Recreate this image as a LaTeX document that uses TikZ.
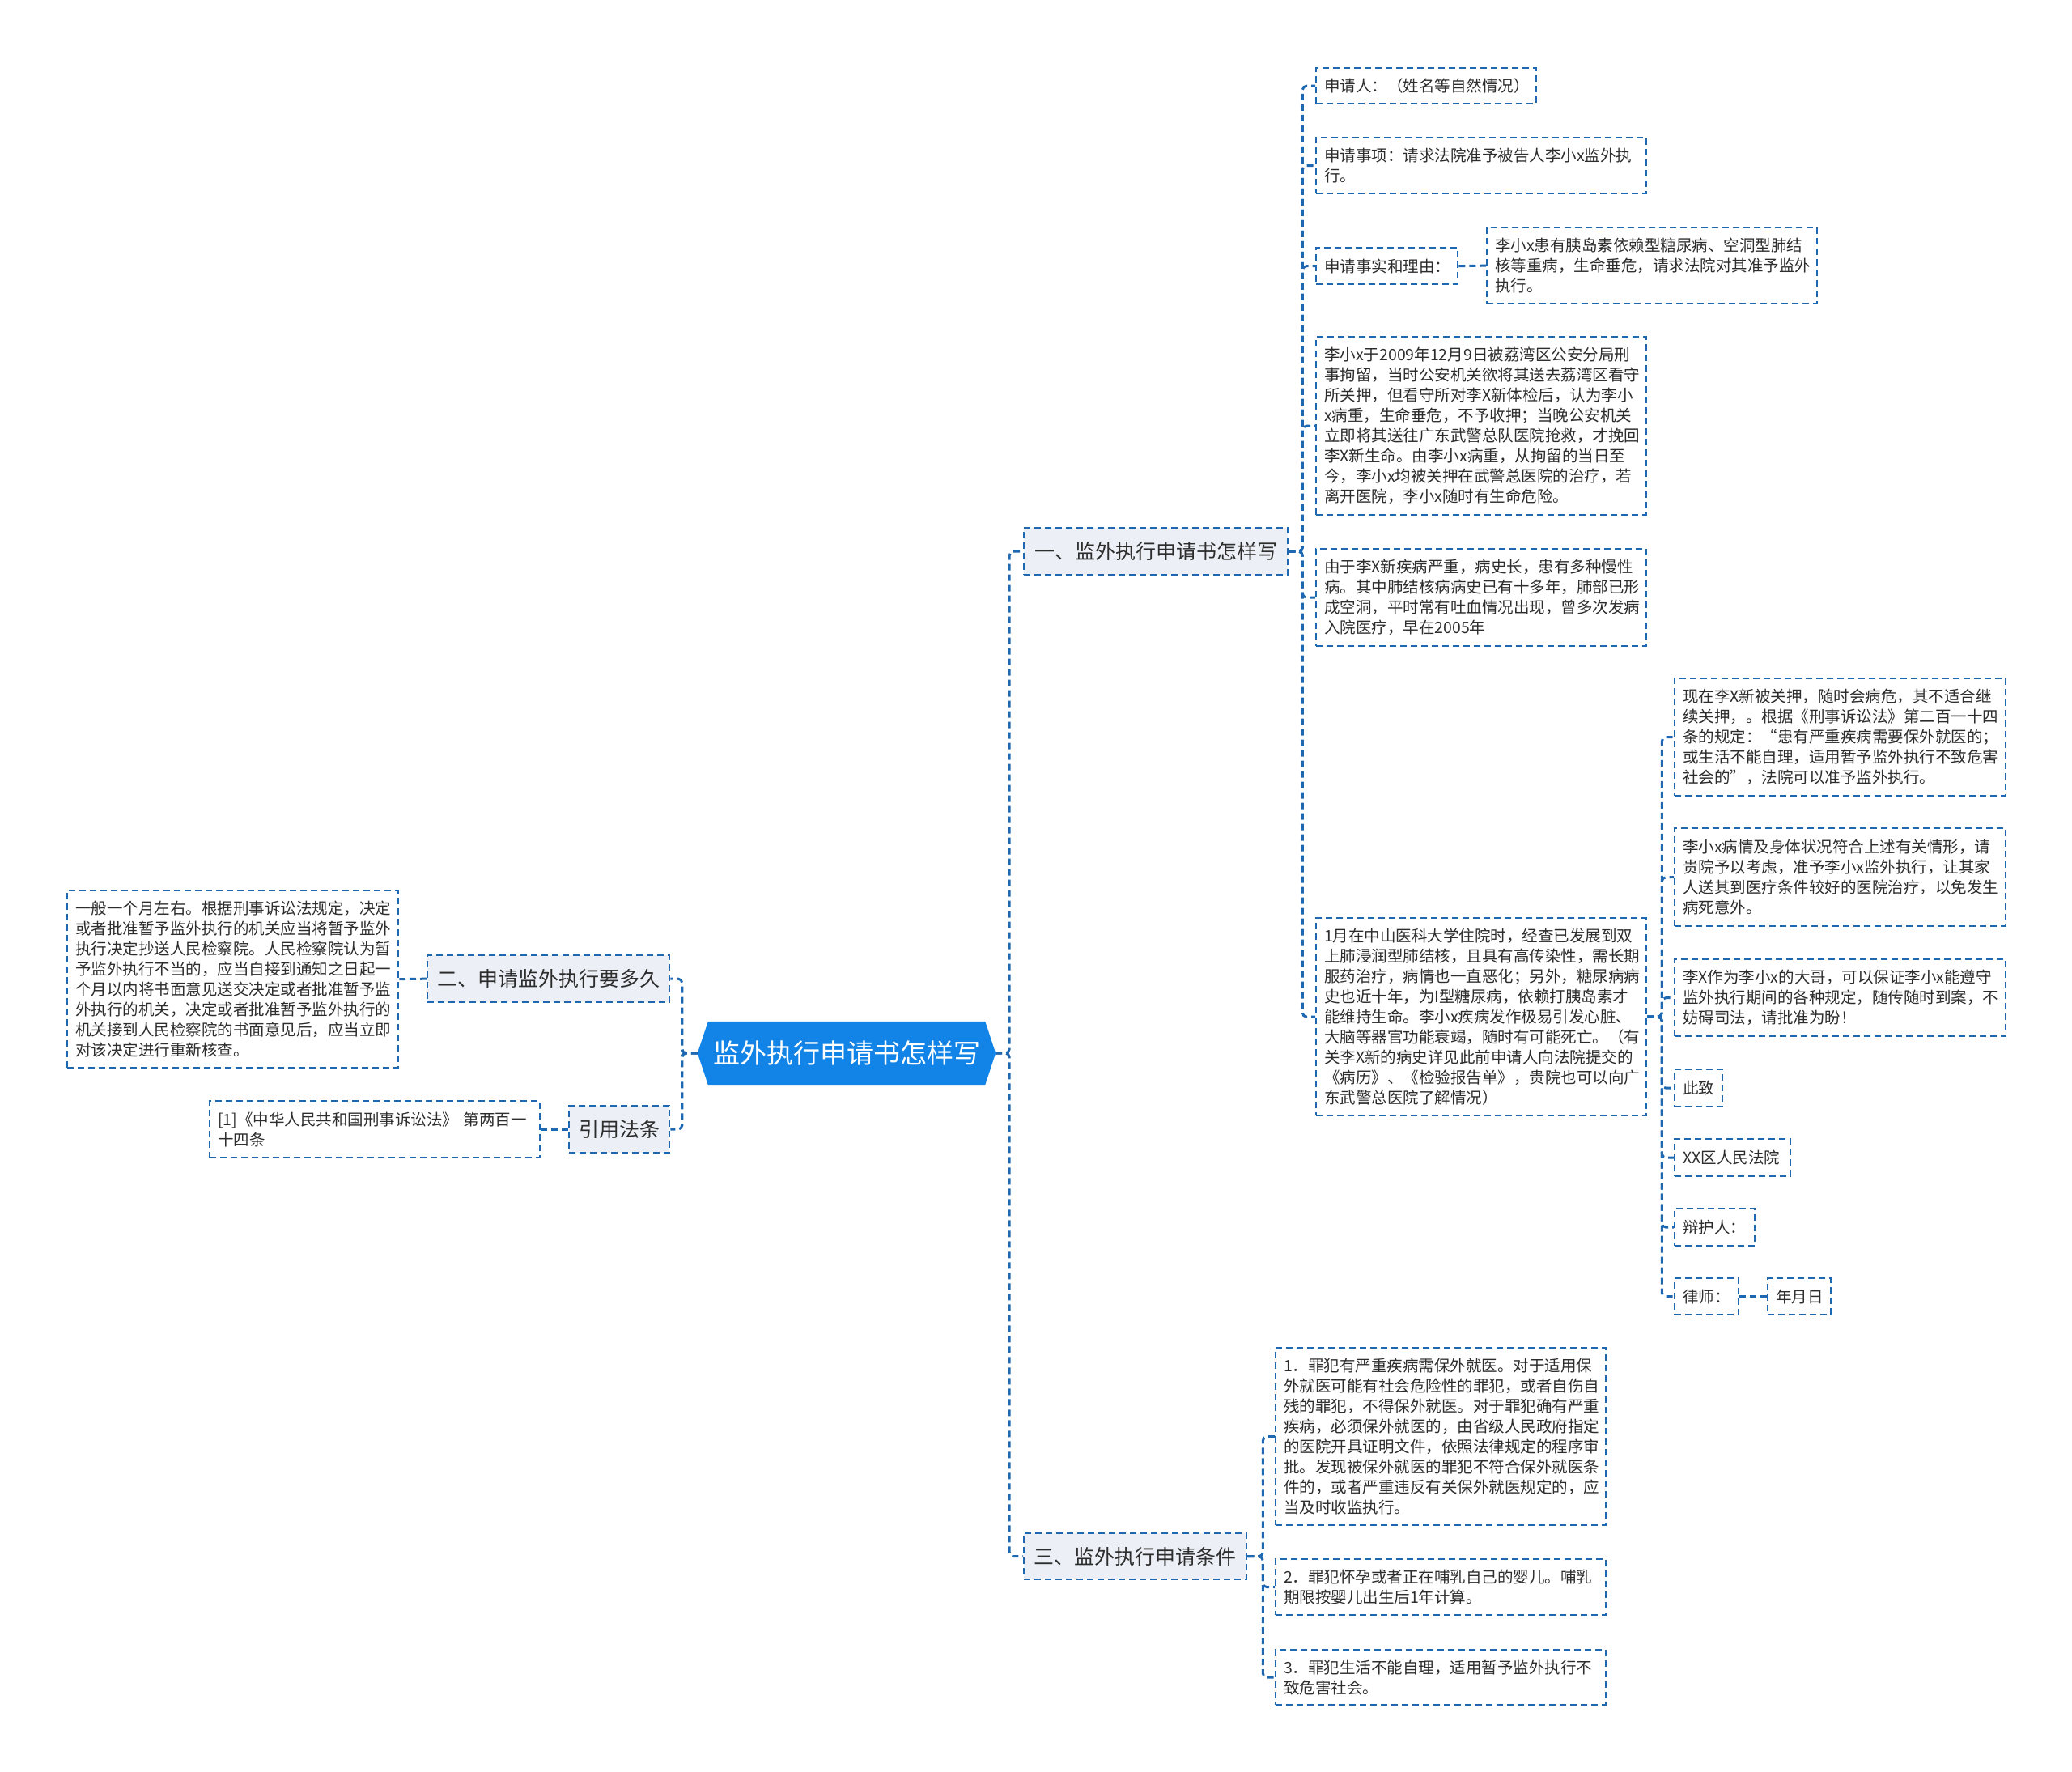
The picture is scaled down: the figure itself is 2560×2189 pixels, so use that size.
\documentclass[tikz,border=0pt]{standalone}
\usepackage{fontspec}
\newfontfamily\cjk{Noto Sans CJK SC}
\usetikzlibrary{backgrounds,calc}
\definecolor{lc}{RGB}{30,104,178}
\definecolor{rootc}{RGB}{18,132,232}
\definecolor{brc}{RGB}{236,240,246}
\definecolor{tc}{RGB}{45,45,45}
\tikzset{
  dsh/.style={dash pattern=on 8pt off 5pt},
  leaf/.style={draw=lc, line width=2.3pt, dsh, fill=white, inner xsep=10pt, inner ysep=0pt,
    align=left, anchor=north west, text=tc, font=\cjk\fontsize{19.5pt}{25pt}\selectfont},
  branch/.style={draw=lc, line width=2.3pt, dsh, fill=brc, inner sep=0pt, align=center,
    anchor=north west, text=tc, font=\cjk\fontsize{25pt}{30pt}\selectfont},
  conn/.style={draw=lc, line width=3pt, dsh, rounded corners=5pt},
}
\begin{document}
\begin{tikzpicture}[x=1pt,y=-1pt]
\path[use as bounding box] (0,0) rectangle (2560,2189);

% root
\node[inner sep=0pt, minimum width=368pt, minimum height=78pt, text=white,
  font=\cjk\fontsize{33pt}{38pt}\selectfont] (root) at (1046,1301) {监外执行申请书怎样写};
\begin{pgfonlayer}{background}
\fill[rootc] (root.west) -- ($(root.north west)+(13,0)$) -- ($(root.north east)+(-13,0)$)
  -- (root.east) -- ($(root.south east)+(-13,0)$) -- ($(root.south west)+(13,0)$) -- cycle;
\end{pgfonlayer}

% branches
\node[branch, minimum width=326pt, minimum height=58pt] (n1) at (1264,651) {一、监外执行申请书怎样写};
\node[branch, minimum width=299pt, minimum height=58pt] (n2) at (527,1179) {二、申请监外执行要多久};
\node[branch, minimum width=275pt, minimum height=57pt] (n3) at (1264,1893) {三、监外执行申请条件};
\node[branch, minimum width=124pt, minimum height=58pt] (n4) at (702,1365) {引用法条};

% branch one leaves
\node[leaf, text width=252pt, minimum height=44pt] (a1) at (1625,83) {申请人：（姓名等自然情况）};
\node[leaf, text width=388pt, minimum height=69pt] (a2) at (1625,169) {申请事项：请求法院准予被告人李小x监外执\\行。};
\node[leaf, text width=155pt, minimum height=45pt] (a3) at (1625,305) {申请事实和理由：};
\node[leaf, text width=388pt, minimum height=94pt] (a3c) at (1836,280) {李小x患有胰岛素依赖型糖尿病、空洞型肺结\\核等重病，生命垂危，请求法院对其准予监外\\执行。};
\node[leaf, text width=388pt, minimum height=220pt] (a4) at (1625,415) {李小x于2009年12月9日被荔湾区公安分局刑\\事拘留，当时公安机关欲将其送去荔湾区看守\\所关押，但看守所对李X新体检后，认为李小\\x病重，生命垂危，不予收押；当晚公安机关\\立即将其送往广东武警总队医院抢救，才挽回\\李X新生命。由李小x病重，从拘留的当日至\\今，李小x均被关押在武警总医院的治疗，若\\离开医院，李小x随时有生命危险。};
\node[leaf, text width=388pt, minimum height=120pt] (a5) at (1625,677) {由于李X新疾病严重，病史长，患有多种慢性\\病。其中肺结核病病史已有十多年，肺部已形\\成空洞，平时常有吐血情况出现，曾多次发病\\入院医疗，早在2005年};
\node[leaf, text width=388pt, minimum height=244pt] (a6) at (1625,1133) {1月在中山医科大学住院时，经查已发展到双\\上肺浸润型肺结核，且具有高传染性，需长期\\服药治疗，病情也一直恶化；另外，糖尿病病\\史也近十年，为I型糖尿病，依赖打胰岛素才\\能维持生命。李小x疾病发作极易引发心脏、\\大脑等器官功能衰竭，随时有可能死亡。（有\\关李X新的病史详见此前申请人向法院提交的\\《病历》、《检验报告单》，贵院也可以向广\\东武警总医院了解情况）};

% children of a6
\node[leaf, text width=389pt, minimum height=145pt] (b1) at (2068,837) {现在李X新被关押，随时会病危，其不适合继\\续关押，。根据《刑事诉讼法》第二百一十四\\条的规定：“患有严重疾病需要保外就医的；\\或生活不能自理，适用暂予监外执行不致危害\\社会的”，法院可以准予监外执行。};
\node[leaf, text width=389pt, minimum height=121pt] (b2) at (2068,1022) {李小x病情及身体状况符合上述有关情形，请\\贵院予以考虑，准予李小x监外执行，让其家\\人送其到医疗条件较好的医院治疗，以免发生\\病死意外。};
\node[leaf, text width=389pt, minimum height=95pt] (b3) at (2068,1184) {李X作为李小x的大哥，可以保证李小x能遵守\\监外执行期间的各种规定，随传随时到案，不\\妨碍司法，请批准为盼！};
\node[leaf, text width=39pt, minimum height=46pt] (b4) at (2068,1320) {此致};
\node[leaf, text width=123pt, minimum height=46pt] (b5) at (2068,1406) {XX区人民法院};
\node[leaf, text width=79pt, minimum height=46pt] (b6) at (2068,1492) {辩护人：};
\node[leaf, text width=59pt, minimum height=45pt] (b7) at (2068,1578) {律师：};
\node[leaf, text width=58pt, minimum height=45pt] (b7c) at (2183,1578) {年月日};

% branch three leaves
\node[leaf, text width=388pt, minimum height=219pt] (c1) at (1575,1664) {1．罪犯有严重疾病需保外就医。对于适用保\\外就医可能有社会危险性的罪犯，或者自伤自\\残的罪犯，不得保外就医。对于罪犯确有严重\\疾病，必须保外就医的，由省级人民政府指定\\的医院开具证明文件，依照法律规定的程序审\\批。发现被保外就医的罪犯不符合保外就医条\\件的，或者严重违反有关保外就医规定的，应\\当及时收监执行。};
\node[leaf, text width=388pt, minimum height=69pt] (c2) at (1575,1925) {2．罪犯怀孕或者正在哺乳自己的婴儿。哺乳\\期限按婴儿出生后1年计算。};
\node[leaf, text width=388pt, minimum height=68pt] (c3) at (1575,2037) {3．罪犯生活不能自理，适用暂予监外执行不\\致危害社会。};

% left leaves
\node[leaf, text width=389pt, minimum height=219pt] (d1) at (82,1099) {一般一个月左右。根据刑事诉讼法规定，决定\\或者批准暂予监外执行的机关应当将暂予监外\\执行决定抄送人民检察院。人民检察院认为暂\\予监外执行不当的，应当自接到通知之日起一\\个月以内将书面意见送交决定或者批准暂予监\\外执行的机关，决定或者批准暂予监外执行的\\机关接到人民检察院的书面意见后，应当立即\\对该决定进行重新核查。};
\node[leaf, text width=388pt, minimum height=70pt] (e1) at (258,1359) {[1]《中华人民共和国刑事诉讼法》 第两百一\\十四条};

% connectors
\foreach \c in {n1,n3} \draw[conn] (root.east) -- ++(17,0) |- (\c.west);
\foreach \c in {n2,n4} \draw[conn] (root.west) -- ++(-19,0) |- (\c.east);
\foreach \c in {a1,a2,a3,a4,a5,a6} \draw[conn] (n1.east) -- ++(17,0) |- (\c.west);
\draw[conn] (a3.east) -- (a3c.west);
\foreach \c in {b1,b2,b3,b4,b5,b6,b7} \draw[conn] (a6.east) -- ++(18,0) |- (\c.west);
\draw[conn] (b7.east) -- (b7c.west);
\foreach \c in {c1,c2,c3} \draw[conn] (n3.east) -- ++(19,0) |- (\c.west);
\draw[conn] (n2.west) -- (d1.east);
\draw[conn] (n4.west) -- (e1.east);
\end{tikzpicture}
\end{document}
